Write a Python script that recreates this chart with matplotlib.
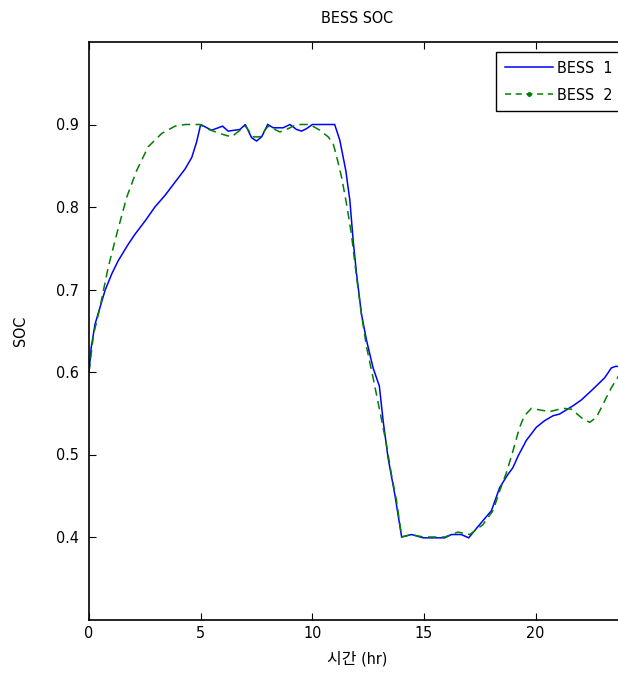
import matplotlib
matplotlib.use("Agg")
import matplotlib.pyplot as plt
from matplotlib import font_manager
from matplotlib.lines import Line2D

# Battery state-of-charge over one day (hours)
t_bess1 = [0.0, 0.1, 0.27, 0.72, 1.02, 1.31, 1.76, 2.06, 2.51, 2.95, 3.40, 3.85, 4.30, 4.60,
           4.82, 5.0, 5.49, 5.98, 6.23, 6.5, 6.76, 7.0, 7.28, 7.5, 7.73, 8.0, 8.25, 8.69,
           9.0, 9.29, 9.52, 9.74, 10.0, 11.0, 11.23, 11.5, 11.68, 11.83, 11.98, 12.2,
           12.43, 12.72, 13.0, 13.17, 13.39, 13.69, 14.0, 14.44, 14.96, 15.48, 15.93,
           16.23, 16.67, 17.0, 17.49, 18.02, 18.39, 18.76, 18.98, 19.21, 19.58, 20.03,
           20.4, 20.78, 21.07, 21.67, 22.04, 22.56, 23.09, 23.39, 23.6, 24.0]
soc_bess1 = [0.600, 0.630, 0.658, 0.699, 0.719, 0.735, 0.755, 0.767, 0.783, 0.800, 0.814,
             0.830, 0.846, 0.860, 0.879, 0.900, 0.893, 0.898, 0.892, 0.893, 0.894, 0.900,
             0.884, 0.880, 0.885, 0.900, 0.896, 0.896, 0.900, 0.894, 0.892, 0.895, 0.900,
             0.900, 0.881, 0.844, 0.808, 0.759, 0.719, 0.670, 0.638, 0.605, 0.583, 0.541,
             0.496, 0.452, 0.400, 0.403, 0.399, 0.399, 0.399, 0.403, 0.403, 0.399, 0.415,
             0.432, 0.460, 0.476, 0.484, 0.498, 0.517, 0.533, 0.541, 0.547, 0.549, 0.559,
             0.566, 0.579, 0.593, 0.605, 0.607, 0.605]

t_bess2 = [0.0, 0.2, 0.49, 0.86, 1.24, 1.69, 2.13, 2.65, 3.25, 3.85, 4.3, 4.97, 5.27, 5.86,
           6.38, 6.76, 7.01, 7.35, 7.65, 8.02, 8.55, 8.92, 9.29, 9.89, 10.34, 10.71, 10.93,
           11.08, 11.31, 11.53, 11.75, 11.98, 12.2, 12.43, 12.72, 13.02, 13.32, 13.54,
           13.77, 14.0, 14.44, 14.96, 15.48, 15.93, 16.52, 17.05, 17.64, 18.09, 18.39,
           18.69, 18.98, 19.28, 19.5, 19.81, 20.18, 20.63, 21.22, 21.6, 22.12, 22.42,
           22.72, 23.09, 23.39, 23.67, 24.0]
soc_bess2 = [0.600, 0.645, 0.678, 0.727, 0.767, 0.812, 0.844, 0.873, 0.889, 0.898, 0.900,
             0.900, 0.895, 0.889, 0.885, 0.893, 0.898, 0.885, 0.885, 0.898, 0.891, 0.895,
             0.900, 0.900, 0.893, 0.885, 0.877, 0.862, 0.836, 0.804, 0.767, 0.715, 0.670,
             0.630, 0.593, 0.553, 0.512, 0.476, 0.444, 0.400, 0.403, 0.400, 0.400, 0.400,
             0.406, 0.403, 0.415, 0.432, 0.456, 0.478, 0.504, 0.533, 0.547, 0.556, 0.554,
             0.552, 0.556, 0.555, 0.543, 0.539, 0.545, 0.565, 0.581, 0.593, 0.612]

series_labels = ["BESS  1", "BESS  2"]
x_ticks = [0, 5, 10, 15, 20]
y_ticks = [0.4, 0.5, 0.6, 0.7, 0.8, 0.9]


def pick_narrow_face():
    """Return (family, stretch) of an installed narrow sans face, or None."""
    order = ["liberationsansnarrow", "notosans", "dejavusans", "roboto", "opensans"]
    best = None
    for f in font_manager.fontManager.ttflist:
        fn = f.fname.replace("-", "").replace("_", "").lower()
        narrow = ("condensed" in fn or "narrow" in fn
                  or f.stretch in ("condensed", "semi-condensed"))
        if not narrow or "extra" in fn or "semi" in fn or "ultra" in fn:
            continue
        if f.style != "normal" or f.weight not in (400, "normal", "regular"):
            continue
        if "mono" in fn or "serif" in fn:
            continue
        base = fn.rsplit("/", 1)[-1]
        rank = next((i for i, key in enumerate(order) if base.startswith(key)), None)
        if rank is None:
            continue
        if best is None or rank < best[0]:
            best = (rank, f.name, f.stretch)
    return None if best is None else (best[1], best[2])


face = pick_narrow_face()
if face is not None:
    base_family, stretch = face
    fs = 11.5
else:
    base_family, stretch = "Liberation Sans", "normal"
    fs = 11
plt.rcParams["font.family"] = [base_family, "Noto Sans CJK KR", "DejaVu Sans"]
plt.rcParams["font.stretch"] = stretch
plt.rcParams["font.size"] = fs

fig = plt.figure(figsize=(6.18, 6.78), dpi=100)
ax = fig.add_axes([89 / 618, (678 - 619.5) / 678, 536 / 618, 577.5 / 678])

blue = (0.0, 0.0, 1.0)
green = (0.0, 0.5, 0.0)
ax.plot(t_bess1, soc_bess1, color=blue, lw=1.1, solid_joinstyle="miter")
ax.plot(t_bess2, soc_bess2, color=green, lw=1.1, ls=(0, (5.5, 3.5)))

ax.set_xlim(0, 24)
ax.set_ylim(0.3, 1.0)
ax.set_xticks(x_ticks)
ax.set_yticks(y_ticks)
ax.set_xticklabels([str(v) for v in x_ticks])
ax.set_yticklabels([f"{v:.1f}" for v in y_ticks])
ax.tick_params(direction="in", length=5, width=0.8, top=True, right=True,
               labelsize=fs, pad=5, colors="black")
ax.tick_params(axis="y", pad=7)
for sp in ax.spines.values():
    sp.set_linewidth(1.2)

ax.set_title("BESS SOC", fontsize=fs, pad=14)
ax.set_xlabel("시간 (hr)", fontsize=fs, labelpad=7)
ax.set_ylabel("SOC", fontsize=fs, ha="center", va="center")
ax.yaxis.set_label_coords((20 - 89) / 536, 0.5)

handles = [Line2D([], [], color=blue, lw=1.1),
           Line2D([], [], color=green, lw=1.1, ls=(0, (4, 3)), marker=".", markersize=5)]
leg = ax.legend(handles, series_labels, loc="upper right",
                bbox_to_anchor=(0.994, 0.983), borderaxespad=0, fancybox=False,
                framealpha=1, edgecolor="black", handlelength=3.0, handletextpad=0.3,
                labelspacing=0.75, borderpad=0.55, numpoints=1, fontsize=fs)
leg.get_frame().set_linewidth(1.0)

fig.savefig("out.png", dpi=100)
